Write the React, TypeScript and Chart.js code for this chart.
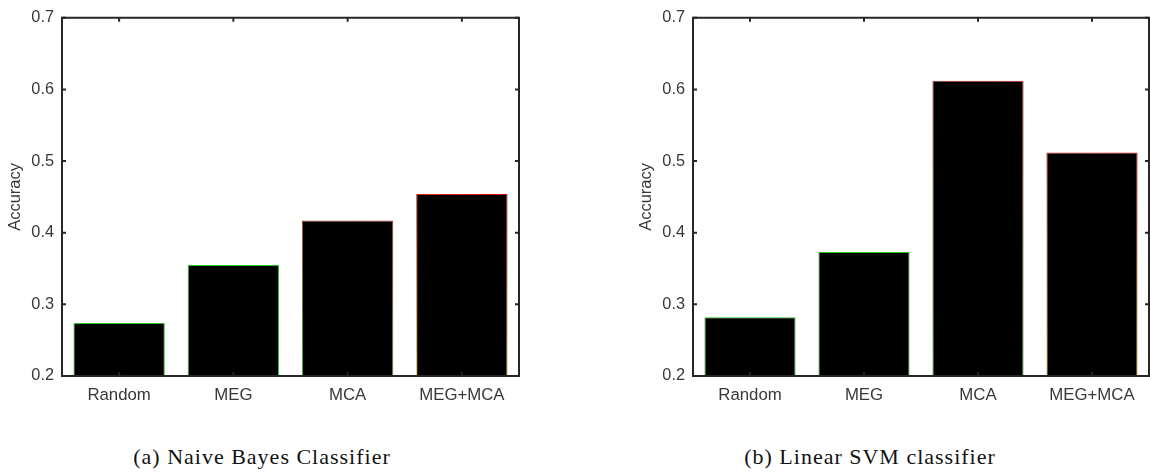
import React, { useEffect, useRef } from "react";
import { Chart, registerables } from "chart.js";

Chart.register(...registerables);

const categories = ["Random", "MEG", "MCA", "MEG+MCA"];
const naiveBayesAccuracy = [0.274, 0.355, 0.417, 0.454];
const linearSvmAccuracy = [0.282, 0.373, 0.612, 0.512];
const yTicks = [0.2, 0.3, 0.4, 0.5, 0.6, 0.7];
const yAxisTitle = "Accuracy";
const captionA = "(a) Naive Bayes Classifier";
const captionB = "(b) Linear SVM classifier";

const edgeBottom = ["#22cc22", "#22cc22", "#33bb22", "#d8c000"];
const edgeTop = ["#22cc22", "#22cc22", "#cc2020", "#e00000"];

const CANVAS_H = 420;
const AXIS_COLOR = "#262626";
const TEXT_COLOR = "#383838";
const FONT = "'Liberation Sans', Arial, sans-serif";

const boxPlugin = {
  id: "matlabBox",
  afterDatasetsDraw(chart: any) {
    const { ctx, chartArea } = chart;
    const { left, right, top, bottom } = chartArea;
    const xs = chart.scales.x;
    const ys = chart.scales.y;
    ctx.save();
    ctx.strokeStyle = AXIS_COLOR;
    ctx.lineWidth = 2;
    ctx.beginPath();
    ctx.rect(left, top, right - left, bottom - top);
    ctx.stroke();
    const tl = 4;
    ctx.beginPath();
    yTicks.forEach((v) => {
      const y = ys.getPixelForValue(v);
      ctx.moveTo(left, y);
      ctx.lineTo(left + tl, y);
      ctx.moveTo(right, y);
      ctx.lineTo(right - tl, y);
    });
    categories.forEach((_, i) => {
      const x = xs.getPixelForValue(i);
      ctx.moveTo(x, bottom);
      ctx.lineTo(x, bottom - tl);
      ctx.moveTo(x, top);
      ctx.lineTo(x, top + tl);
    });
    ctx.stroke();
    ctx.restore();
  },
};

function BarPanel({ values, left, width, right }: { values: number[]; left: number; width: number; right: number }) {
  const ref = useRef<HTMLCanvasElement | null>(null);
  useEffect(() => {
    if (!ref.current) return;
    const chart = new Chart(ref.current, {
      type: "bar",
      data: {
        labels: categories,
        datasets: [
          {
            data: values,
            backgroundColor: "#000000",
            borderWidth: 1,
            borderSkipped: false,
            borderColor: (c: any) => {
              const ch = c.chart;
              const area = ch.chartArea;
              if (!area) return "#22cc22";
              const i = c.dataIndex;
              const xs = ch.scales.x;
              const cx = xs.getPixelForValue(i);
              const g = ch.ctx.createLinearGradient(cx - 45, area.bottom, cx + 45, ch.scales.y.getPixelForValue(values[i]));
              g.addColorStop(0, edgeBottom[i]);
              g.addColorStop(1, edgeTop[i]);
              return g;
            },
            barPercentage: 0.8,
            categoryPercentage: 1.0,
          },
        ],
      },
      options: {
        animation: false,
        responsive: false,
        maintainAspectRatio: false,
        layout: { padding: { left: 0, top: 15, right: right, bottom: 0 } },
        plugins: { legend: { display: false }, tooltip: { enabled: false } },
        scales: {
          x: {
            type: "category",
            offset: true,
            grid: { display: false, drawTicks: false },
            border: { display: false },
            ticks: { color: TEXT_COLOR, font: { family: FONT, size: 16.8 }, padding: 9, maxRotation: 0 },
            afterFit: (s: any) => {
              s.height = CANVAS_H - 376;
            },
          },
          y: {
            type: "linear",
            min: 0.2,
            max: 0.7,
            grid: { display: false, drawTicks: false },
            border: { display: false },
            afterBuildTicks: (s: any) => {
              s.ticks = yTicks.map((v) => ({ value: v }));
            },
            ticks: {
              color: TEXT_COLOR,
              font: { family: FONT, size: 16.3 },
              padding: 8,
              callback: (v: any) => Number(v).toFixed(1),
            },
            title: {
              display: true,
              text: yAxisTitle,
              color: TEXT_COLOR,
              font: { family: FONT, size: 16.5 },
              padding: { top: 6, bottom: 0 },
            },
            afterFit: (s: any) => {
              s.width = 62;
            },
          },
        },
      },
      plugins: [boxPlugin],
    } as any);
    return () => chart.destroy();
  }, []);
  return (
    <canvas
      ref={ref}
      width={width}
      height={CANVAS_H}
      style={{ position: "absolute", left, top: 0, width, height: CANVAS_H }}
    />
  );
}

export default function App() {
  const capStyle: React.CSSProperties = {
    position: "absolute",
    top: 445,
    fontFamily: "'Liberation Serif', 'Times New Roman', serif",
    fontSize: 22,
    letterSpacing: 1,
    color: "#111",
    whiteSpace: "nowrap",
    lineHeight: "24px",
    transform: "translateX(-50%)",
  };
  return (
    <div style={{ position: "fixed", left: 0, top: 0, width: 1150, height: 472, background: "#fff", overflow: "hidden" }}>
      <BarPanel values={naiveBayesAccuracy} left={0} width={560} right={560 - 519} />
      <BarPanel values={linearSvmAccuracy} left={631} width={519} right={519 - 518} />
      <div style={{ ...capStyle, left: 262 }}>{captionA}</div>
      <div style={{ ...capStyle, left: 870 }}>{captionB}</div>
    </div>
  );
}
